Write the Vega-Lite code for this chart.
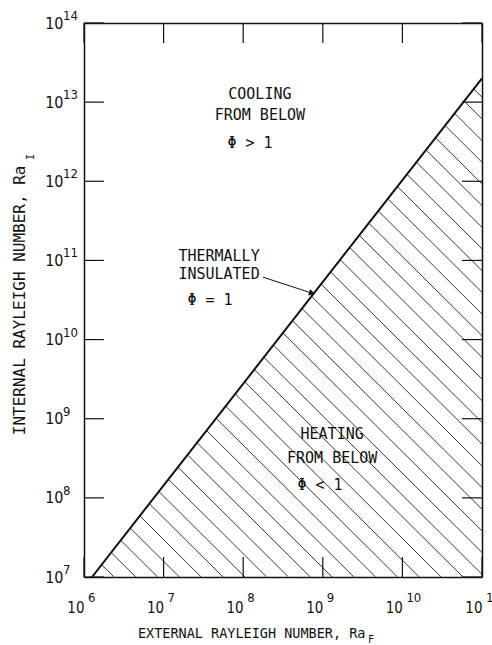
{
  "$schema": "https://vega.github.io/schema/vega-lite/v6.json",
  "width": 398,
  "height": 554,
  "autosize": "none",
  "padding": {"left": 84, "top": 23, "right": 10, "bottom": 68},
  "background": "white",
  "config": {
    "view": {"stroke": null},
    "axis": {
      "zindex": 1,
      "grid": false,
      "ticks": false,
      "domainColor": "#111",
      "domainWidth": 1.5,
      "labelColor": "#111",
      "titleColor": "#111",
      "labelFlush": false,
      "labelOverlap": false
    }
  },
  "datasets": {
    "hatch": [
      {"e1": 1.665e6, "i1": 1.431e7, "e2": 2.38e6, "i2": 1e7},
      {"e1": 2.194e6, "i1": 2.04e7, "e2": 4.48e6, "i2": 1e7},
      {"e1": 2.892e6, "i1": 2.911e7, "e2": 8.41e6, "i2": 1e7},
      {"e1": 3.81e6, "i1": 4.15e7, "e2": 1.58e7, "i2": 1e7},
      {"e1": 5.022e6, "i1": 5.918e7, "e2": 2.97e7, "i2": 1e7},
      {"e1": 6.618e6, "i1": 8.438e7, "e2": 5.58e7, "i2": 1e7},
      {"e1": 8.721e6, "i1": 1.203e8, "e2": 1.05e8, "i2": 1e7},
      {"e1": 1.149e7, "i1": 1.716e8, "e2": 1.97e8, "i2": 1e7},
      {"e1": 1.515e7, "i1": 2.448e8, "e2": 3.71e8, "i2": 1e7},
      {"e1": 1.996e7, "i1": 3.49e8, "e2": 6.97e8, "i2": 1e7},
      {"e1": 2.63e7, "i1": 4.977e8, "e2": 1.31e9, "i2": 1e7},
      {"e1": 3.466e7, "i1": 7.098e8, "e2": 2.46e9, "i2": 1e7},
      {"e1": 4.568e7, "i1": 1.0123e9, "e2": 4.62e9, "i2": 1e7},
      {"e1": 6.02e7, "i1": 1.443e9, "e2": 8.69e9, "i2": 1e7},
      {"e1": 7.93e7, "i1": 2.058e9, "e2": 1.63e10, "i2": 1e7},
      {"e1": 1.045e8, "i1": 2.936e9, "e2": 3.07e10, "i2": 1e7},
      {"e1": 1.378e8, "i1": 4.187e9, "e2": 5.77e10, "i2": 1e7},
      {"e1": 1.816e8, "i1": 5.97e9, "e2": 1e11, "i2": 1.08e7},
      {"e1": 2.393e8, "i1": 8.513e9, "e2": 1e11, "i2": 2.04e7},
      {"e1": 3.153e8, "i1": 1.214e10, "e2": 1e11, "i2": 3.83e7},
      {"e1": 4.155e8, "i1": 1.731e10, "e2": 1e11, "i2": 7.19e7},
      {"e1": 5.476e8, "i1": 2.469e10, "e2": 1e11, "i2": 1.35e8},
      {"e1": 7.216e8, "i1": 3.521e10, "e2": 1e11, "i2": 2.54e8},
      {"e1": 9.51e8, "i1": 5.022e10, "e2": 1e11, "i2": 4.77e8},
      {"e1": 1.253e9, "i1": 7.161e10, "e2": 1e11, "i2": 8.97e8},
      {"e1": 1.652e9, "i1": 1.021e11, "e2": 1e11, "i2": 1.69e9},
      {"e1": 2.177e9, "i1": 1.456e11, "e2": 1e11, "i2": 3.17e9},
      {"e1": 2.869e9, "i1": 2.077e11, "e2": 1e11, "i2": 5.96e9},
      {"e1": 3.78e9, "i1": 2.962e11, "e2": 1e11, "i2": 1.12e10},
      {"e1": 4.981e9, "i1": 4.224e11, "e2": 1e11, "i2": 2.10e10},
      {"e1": 6.565e9, "i1": 6.023e11, "e2": 1e11, "i2": 3.95e10},
      {"e1": 8.65e9, "i1": 8.589e11, "e2": 1e11, "i2": 7.43e10},
      {"e1": 1.14e10, "i1": 1.225e12, "e2": 1e11, "i2": 1.40e11},
      {"e1": 1.502e10, "i1": 1.747e12, "e2": 1e11, "i2": 2.62e11},
      {"e1": 1.98e10, "i1": 2.491e12, "e2": 1e11, "i2": 4.93e11},
      {"e1": 2.609e10, "i1": 3.552e12, "e2": 1e11, "i2": 9.27e11},
      {"e1": 3.438e10, "i1": 5.066e12, "e2": 1e11, "i2": 1.74e12},
      {"e1": 4.531e10, "i1": 7.224e12, "e2": 1e11, "i2": 3.27e12},
      {"e1": 5.971e10, "i1": 1.03e13, "e2": 1e11, "i2": 6.15e12},
      {"e1": 7.869e10, "i1": 1.469e13, "e2": 1e11, "i2": 1.16e13}
    ],
    "boundary": [
      {"raE": 1.26e6, "raI": 1e7},
      {"raE": 1e11, "raI": 2e13}
    ],
    "arrow": [
      {"raE": 1.77e8, "raI": 6.15e10, "end": "tail"},
      {"raE": 7.31e8, "raI": 3.86e10, "end": "head"}
    ],
    "notes": [
      {"raE": 1.62e8, "raI": 1.27e13, "t": "COOLING"},
      {"raE": 1.62e8, "raI": 6.78e12, "t": "FROM BELOW"},
      {"raE": 1.22e8, "raI": 3.09e12, "t": "Φ > 1"},
      {"raE": 4.97e7, "raI": 1.14e11, "t": "THERMALLY"},
      {"raE": 4.97e7, "raI": 6.73e10, "t": "INSULATED"},
      {"raE": 3.83e7, "raI": 3.16e10, "t": "Φ = 1"},
      {"raE": 1.31e9, "raI": 6.41e8, "t": "HEATING"},
      {"raE": 1.31e9, "raI": 3.18e8, "t": "FROM BELOW"},
      {"raE": 9.22e8, "raI": 1.45e8, "t": "Φ < 1"}
    ],
    "xDecades": [
      {"v": 1e6, "e": "6"}, {"v": 1e7, "e": "7"}, {"v": 1e8, "e": "8"},
      {"v": 1e9, "e": "9"}, {"v": 1e10, "e": "10"}, {"v": 1e11, "e": "11"}
    ],
    "yDecades": [
      {"v": 1e7, "e": "7"}, {"v": 1e8, "e": "8"}, {"v": 1e9, "e": "9"}, {"v": 1e10, "e": "10"},
      {"v": 1e11, "e": "11"}, {"v": 1e12, "e": "12"}, {"v": 1e13, "e": "13"}, {"v": 1e14, "e": "14"}
    ],
    "subE": [{"s": "F", "raE": 3.7e9}],
    "subI": [{"s": "I", "raI": 1.75e12}]
  },
  "resolve": {"axis": {"x": "independent", "y": "independent"}},
  "layer": [
    {
      "data": {"name": "hatch"},
      "mark": {"type": "rule", "clip": true, "stroke": "#222", "strokeWidth": 0.9},
      "encoding": {
        "x": {
          "field": "e1", "type": "quantitative",
          "scale": {"type": "log", "domain": [1e6, 1e11], "nice": false},
          "axis": {
            "orient": "bottom",
            "values": [1e6, 1e7, 1e8, 1e9, 1e10, 1e11],
            "labelExpr": "'10'",
            "labelPadding": 35,
            "labelAlign": "right",
            "labelBaseline": "alphabetic",
            "labelDx": 4,
            "labelFont": "Liberation Sans Narrow, DejaVu Sans Condensed, Liberation Sans, sans-serif",
            "labelFontSize": 15,
            "title": "EXTERNAL RAYLEIGH NUMBER, Ra",
            "titleX": 281,
            "titleY": 60,
            "titleAlign": "right",
            "titleBaseline": "alphabetic",
            "titleFont": "DejaVu Sans Mono",
            "titleFontSize": 13.5,
            "titleFontWeight": "normal"
          }
        },
        "x2": {"field": "e2"},
        "y": {
          "field": "i1", "type": "quantitative",
          "scale": {"type": "log", "domain": [1e7, 1e14], "nice": false},
          "axis": {
            "orient": "left",
            "values": [1e7, 1e8, 1e9, 1e10, 1e11, 1e12, 1e13, 1e14],
            "labelExpr": "'10'",
            "labelPadding": 21,
            "labelAlign": "right",
            "labelBaseline": "middle",
            "labelFont": "Liberation Sans Narrow, DejaVu Sans Condensed, Liberation Sans, sans-serif",
            "labelFontSize": 16,
            "title": "INTERNAL RAYLEIGH NUMBER, Ra",
            "titleX": -60,
            "titleY": 142,
            "titleAngle": 270,
            "titleAlign": "right",
            "titleBaseline": "alphabetic",
            "titleFont": "DejaVu Sans Mono",
            "titleFontSize": 16,
            "titleFontWeight": "normal"
          }
        },
        "y2": {"field": "i2"}
      }
    },
    {
      "data": {"name": "boundary"},
      "mark": {"type": "line", "clip": true, "stroke": "#111", "strokeWidth": 2},
      "encoding": {
        "x": {
          "field": "raE", "type": "quantitative",
          "scale": {"type": "log", "domain": [1e6, 1e11], "nice": false},
          "axis": {"orient": "top", "values": [1e6, 1e11], "labels": false, "title": null}
        },
        "y": {
          "field": "raI", "type": "quantitative",
          "scale": {"type": "log", "domain": [1e7, 1e14], "nice": false},
          "axis": {"orient": "right", "values": [1e7, 1e14], "labels": false, "title": null}
        }
      }
    },
    {
      "data": {"name": "xDecades"},
      "mark": {"type": "rule", "stroke": "#111", "strokeWidth": 1.2},
      "encoding": {
        "x": {"field": "v", "type": "quantitative", "scale": {"type": "log", "domain": [1e6, 1e11], "nice": false}, "axis": null},
        "y": {"datum": 1e7, "type": "quantitative", "scale": {"type": "log", "domain": [1e7, 1e14], "nice": false}, "axis": null},
        "y2": {"datum": 1.79e7}
      }
    },
    {
      "data": {"name": "xDecades"},
      "mark": {"type": "rule", "stroke": "#111", "strokeWidth": 1.2},
      "encoding": {
        "x": {"field": "v", "type": "quantitative", "scale": {"type": "log", "domain": [1e6, 1e11], "nice": false}, "axis": null},
        "y": {"datum": 1e14, "type": "quantitative", "scale": {"type": "log", "domain": [1e7, 1e14], "nice": false}, "axis": null},
        "y2": {"datum": 5.59e13}
      }
    },
    {
      "data": {"name": "yDecades"},
      "mark": {"type": "rule", "stroke": "#111", "strokeWidth": 1.2},
      "encoding": {
        "x": {"datum": 1e6, "type": "quantitative", "scale": {"type": "log", "domain": [1e6, 1e11], "nice": false}, "axis": null},
        "x2": {"datum": 1.78e6},
        "y": {"field": "v", "type": "quantitative", "scale": {"type": "log", "domain": [1e7, 1e14], "nice": false}, "axis": null}
      }
    },
    {
      "data": {"name": "yDecades"},
      "mark": {"type": "rule", "stroke": "#111", "strokeWidth": 1.2},
      "encoding": {
        "x": {"datum": 1e11, "type": "quantitative", "scale": {"type": "log", "domain": [1e6, 1e11], "nice": false}, "axis": null},
        "x2": {"datum": 5.61e10},
        "y": {"field": "v", "type": "quantitative", "scale": {"type": "log", "domain": [1e7, 1e14], "nice": false}, "axis": null}
      }
    },
    {
      "data": {"name": "arrow"},
      "mark": {"type": "line", "stroke": "#111", "strokeWidth": 1},
      "encoding": {
        "x": {"field": "raE", "type": "quantitative", "scale": {"type": "log", "domain": [1e6, 1e11], "nice": false}, "axis": null},
        "y": {"field": "raI", "type": "quantitative", "scale": {"type": "log", "domain": [1e7, 1e14], "nice": false}, "axis": null}
      }
    },
    {
      "data": {"name": "arrow"},
      "transform": [{"filter": "datum.end === 'head'"}],
      "mark": {"type": "point", "shape": "triangle-right", "angle": 18, "size": 45, "filled": true, "fill": "#111", "stroke": null, "opacity": 1},
      "encoding": {
        "x": {"field": "raE", "type": "quantitative", "scale": {"type": "log", "domain": [1e6, 1e11], "nice": false}, "axis": null},
        "y": {"field": "raI", "type": "quantitative", "scale": {"type": "log", "domain": [1e7, 1e14], "nice": false}, "axis": null}
      }
    },
    {
      "data": {"name": "notes"},
      "mark": {"type": "text", "font": "DejaVu Sans Mono", "fontSize": 15, "align": "center", "baseline": "middle", "fill": "#111"},
      "encoding": {
        "x": {"field": "raE", "type": "quantitative", "scale": {"type": "log", "domain": [1e6, 1e11], "nice": false}, "axis": null},
        "y": {"field": "raI", "type": "quantitative", "scale": {"type": "log", "domain": [1e7, 1e14], "nice": false}, "axis": null},
        "text": {"field": "t"}
      }
    },
    {
      "data": {"name": "xDecades"},
      "mark": {"type": "text", "font": "Liberation Sans Narrow, DejaVu Sans Condensed, Liberation Sans, sans-serif", "fontSize": 13, "align": "left", "baseline": "alphabetic", "dx": 4, "dy": 25, "fill": "#111"},
      "encoding": {
        "x": {"field": "v", "type": "quantitative", "scale": {"type": "log", "domain": [1e6, 1e11], "nice": false}, "axis": null},
        "y": {"datum": 1e7, "type": "quantitative", "scale": {"type": "log", "domain": [1e7, 1e14], "nice": false}, "axis": null},
        "text": {"field": "e"}
      }
    },
    {
      "data": {"name": "yDecades"},
      "mark": {"type": "text", "font": "Liberation Sans Narrow, DejaVu Sans Condensed, Liberation Sans, sans-serif", "fontSize": 13, "align": "left", "baseline": "alphabetic", "dx": -21, "dy": -3, "fill": "#111"},
      "encoding": {
        "x": {"datum": 1e6, "type": "quantitative", "scale": {"type": "log", "domain": [1e6, 1e11], "nice": false}, "axis": null},
        "y": {"field": "v", "type": "quantitative", "scale": {"type": "log", "domain": [1e7, 1e14], "nice": false}, "axis": null},
        "text": {"field": "e"}
      }
    },
    {
      "data": {"name": "subE"},
      "mark": {"type": "text", "font": "DejaVu Sans Mono", "fontSize": 10, "align": "left", "baseline": "alphabetic", "dy": 66, "fill": "#111"},
      "encoding": {
        "x": {"field": "raE", "type": "quantitative", "scale": {"type": "log", "domain": [1e6, 1e11], "nice": false}, "axis": null},
        "y": {"datum": 1e7, "type": "quantitative", "scale": {"type": "log", "domain": [1e7, 1e14], "nice": false}, "axis": null},
        "text": {"field": "s"}
      }
    },
    {
      "data": {"name": "subI"},
      "mark": {"type": "text", "font": "DejaVu Sans Mono", "fontSize": 10, "align": "left", "baseline": "alphabetic", "angle": 270, "dx": 2, "dy": -50, "fill": "#111"},
      "encoding": {
        "x": {"datum": 1e6, "type": "quantitative", "scale": {"type": "log", "domain": [1e6, 1e11], "nice": false}, "axis": null},
        "y": {"field": "raI", "type": "quantitative", "scale": {"type": "log", "domain": [1e7, 1e14], "nice": false}, "axis": null},
        "text": {"field": "s"}
      }
    }
  ]
}
